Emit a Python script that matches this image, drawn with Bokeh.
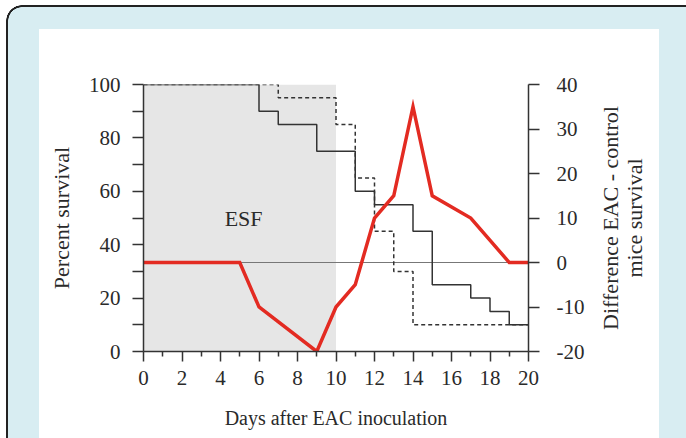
import math
from bokeh.plotting import figure
from bokeh.layouts import row
from bokeh.models import Range1d, LinearAxis, FixedTicker, BoxAnnotation, Span, Label
from bokeh.embed import file_html
from bokeh.resources import INLINE

# ---- data ----
days_eac = [0, 6, 7, 9, 11, 12, 14, 15, 17, 18, 19, 20]
surv_eac = [100, 90, 85, 75, 60, 55, 45, 25, 20, 15, 10, 10]
days_ctrl = [0, 7, 10, 11, 12, 13, 14, 20]
surv_ctrl = [100, 95, 85, 65, 45, 30, 10, 10]
days_diff = [0, 5, 6, 9, 10, 11, 12, 13, 14, 15, 17, 19, 20]
diff_vals = [0, 0, -10, -20, -10, -5, 10, 15, 35, 15, 10, 0, 0]
x_ticks = [0, 2, 4, 6, 8, 10, 12, 14, 16, 18, 20]
x_minor = [1, 3, 5, 7, 9, 11, 13, 15, 17, 19]
y_ticks = [0, 20, 40, 60, 80, 100]
y_minor = [10, 30, 50, 70, 90]
y2_ticks = [-20, -10, 0, 10, 20, 30, 40]
y2_labels = {-20: "-20", -10: "-10"}
right_title = ["Difference EAC - control", "mice survival"]
esf_span = [0, 10]

FONT = "Liberation Serif"
INK = "#2a2a2a"
BLUE = "#d8edf2"
EDGE = "#222222"

def solid(c):
    return f"linear-gradient({c}, {c})"

diff_range = Range1d(-20, 40)

p = figure(width=590, height=438, output_backend="svg", toolbar_location=None,
           x_range=Range1d(0, 20), y_range=Range1d(0, 100),
           min_border_left=143, min_border_right=62, min_border_top=84, min_border_bottom=87)
p.outline_line_color = None
p.border_fill_alpha = 0
p.background_fill_color = "white"
p.grid.visible = False
p.styles = {
    "background": ", ".join([
        solid("#ffffff") + " 39px 29px / 620px 460px no-repeat",
        solid(BLUE) + " 22px 7px / 700px 500px no-repeat",
        solid(BLUE) + " 8px 21px / 700px 500px no-repeat",
        f"radial-gradient(circle 14px at 22px 21px, {BLUE} 13.5px, transparent 14px) 0 0 / 100% 100% no-repeat",
        solid(EDGE) + " 22px 5px / 700px 500px no-repeat",
        solid(EDGE) + " 6px 21px / 700px 500px no-repeat",
        f"radial-gradient(circle 16px at 22px 21px, {EDGE} 15.5px, transparent 16px) 0 0 / 100% 100% no-repeat",
        "#ffffff",
    ])
}

p.extra_y_ranges = {"diff": diff_range}

# shaded ESF period
p.add_layout(BoxAnnotation(left=esf_span[0], right=esf_span[1], bottom=0, top=100,
                           fill_color="#e6e6e6", fill_alpha=1, line_color=None, level="underlay"))
p.add_layout(Span(location=0, dimension="width", y_range_name="diff",
                  line_color="#777777", line_width=1, level="underlay"))

p.step(days_ctrl, surv_ctrl, mode="after", line_color="#333333", line_width=1.5, line_dash="4 3")
p.step(days_eac, surv_eac, mode="after", line_color="#333333", line_width=1.5)
p.line(days_diff, diff_vals, y_range_name="diff", line_color="#e32b22", line_width=3.5,
       line_join="miter")

p.add_layout(Label(x=5.2, y=50, text="ESF", text_font=FONT, text_font_size="22px",
                   text_align="center", text_baseline="middle", text_color=INK))

def style_axis(ax, tick_out, minor_out, label_size):
    ax.axis_line_color = "#333333"
    ax.axis_line_width = 1.5
    ax.major_tick_line_color = "#333333"
    ax.major_tick_line_width = 1.5
    ax.minor_tick_line_color = "#333333"
    ax.minor_tick_line_width = 1.5
    ax.major_tick_in = 0
    ax.major_tick_out = tick_out
    ax.minor_tick_in = 0
    ax.minor_tick_out = minor_out
    ax.major_label_text_font = FONT
    ax.major_label_text_font_size = "21px"
    ax.major_label_text_color = INK
    ax.axis_label_text_font = FONT
    ax.axis_label_text_font_size = label_size
    ax.axis_label_text_font_style = "normal"
    ax.axis_label_text_color = INK

xax = p.xaxis[0]
xax.ticker = FixedTicker(ticks=x_ticks, minor_ticks=x_minor)
style_axis(xax, 10, 5, "20px")
xax.axis_label = "Days after EAC inoculation"
xax.major_label_standoff = 9
xax.axis_label_standoff = 19

yax = p.yaxis[0]
yax.ticker = FixedTicker(ticks=y_ticks, minor_ticks=y_minor)
style_axis(yax, 11, 11, "22px")
yax.axis_label = "Percent survival"
yax.major_label_standoff = 12
yax.axis_label_standoff = 12

rax = LinearAxis(y_range_name="diff", ticker=FixedTicker(ticks=y2_ticks))
style_axis(rax, 11, 0, "22px")
rax.major_label_overrides = y2_labels
rax.major_label_standoff = 17
p.add_layout(rax, "right")

# ---- right-hand axis title panel (two lines reading upwards) ----
t = figure(width=96, height=438, output_backend="svg", toolbar_location=None,
           x_range=Range1d(0, 1), y_range=diff_range,
           min_border_left=0, min_border_right=0, min_border_top=84, min_border_bottom=87)
t.axis.visible = False
t.grid.visible = False
t.outline_line_color = None
t.border_fill_alpha = 0
t.background_fill_alpha = 0
t.styles = {
    "background": ", ".join([
        solid("#ffffff") + " 0px 29px / 69px 460px no-repeat",
        solid(BLUE) + " 0px 7px / 200px 500px no-repeat",
        solid(EDGE) + " 0px 5px / 200px 500px no-repeat",
        "#ffffff",
    ])
}
t.text(x=[0.208, 0.458], y=[10, 10], text=right_title, angle=math.pi / 2,
       text_font={"value": FONT}, text_font_size="22px", text_align="center",
       text_baseline="middle", text_color=INK)

layout = row(p, t, spacing=0)
open("out.html", "w").write(file_html(layout, INLINE))
